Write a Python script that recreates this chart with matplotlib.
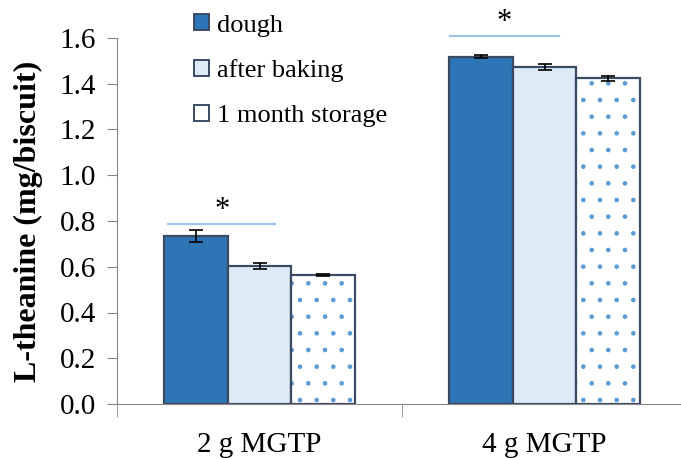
import matplotlib.pyplot as plt
import matplotlib.patches as mpatches
import numpy as np

plt.rcParams['font.family'] = ['Liberation Serif', 'DejaVu Serif']
plt.rcParams['hatch.linewidth'] = 0.9

# Data
groups = ['2 g MGTP', '4 g MGTP']
series = ['dough', 'after baking', '1 month storage']
dough = [0.735, 1.518]
dough_err = [0.026, 0.006]
baked = [0.603, 1.474]
baked_err = [0.014, 0.012]
stored = [0.565, 1.424]
stored_err = [0.004, 0.012]

# significance bars: (x from, x to, height) per group offset
sig_lines = [(-0.32, 0.055, 0.787), (-0.33, 0.05, 1.61)]

fig = plt.figure(figsize=(6.81, 4.58), dpi=100)
ax = fig.add_axes([117/681, 1 - 404/458, 570/681, 366/458])

x = np.arange(len(groups))
w = 0.2235
edge = '#3B4A63'
ekw = dict(elinewidth=1.2, capthick=1.2)
ax.bar(x - w, dough, w, yerr=dough_err, color='#2E75B6', edgecolor=edge,
       linewidth=1.6, capsize=5, error_kw=ekw)
ax.bar(x, baked, w, yerr=baked_err, color='#DEEBF7', edgecolor=edge,
       linewidth=1.6, capsize=5, error_kw=ekw)
# dotted fill in blue, outline drawn on top
ax.bar(x + w, stored, w, color='white', edgecolor='#5B9BD5', hatch='.',
       linewidth=0)
ax.bar(x + w, stored, w, yerr=stored_err, fill=False, edgecolor=edge,
       linewidth=1.6, capsize=5, error_kw=ekw)

for xi, (x0, x1, h) in zip(x, sig_lines):
    ax.plot([xi + x0, xi + x1], [h, h], color='#9DC3E6', lw=1.6, clip_on=False)
    ax.text(xi + (x0 + x1) / 2, h - 0.005, '*', ha='center', va='bottom',
            fontsize=22, clip_on=False)

ax.set_xlim(-0.5, 1.5)
ax.set_ylim(0, 1.6)
ax.set_yticks(np.arange(0, 1.61, 0.2))
ax.set_yticklabels([f'{v:.1f}' for v in np.arange(0, 1.61, 0.2)])
ax.set_xticks(x)
ax.set_xticklabels(groups)
ax.set_xticks([-0.5, 0.5, 1.5], minor=True)
ax.tick_params(axis='x', which='major', length=0, pad=20, labelsize=21)
ax.tick_params(axis='x', which='minor', length=9, color='#888888', direction='out')
ax.tick_params(axis='y', length=7, color='#888888', labelsize=21, pad=8)

for s in ['top', 'right']:
    ax.spines[s].set_visible(False)
ax.spines['left'].set_color('#888888')
ax.spines['bottom'].set_color('#888888')

ax.set_ylabel('L-theanine (mg/biscuit)', fontsize=23, fontweight='bold')
ax.yaxis.set_label_coords(-0.13, 0.5)

handles = [
    mpatches.Patch(facecolor='#2E75B6', edgecolor=edge, linewidth=1.4),
    mpatches.Patch(facecolor='#DEEBF7', edgecolor=edge, linewidth=1.4),
    mpatches.Patch(facecolor='white', edgecolor=edge, linewidth=1.4),
]
fig.legend(handles, series, loc='upper left', bbox_to_anchor=(176/681, 1 + 4/458),
           frameon=False, fontsize=19, handlelength=0.55, handleheight=0.55,
           handletextpad=0.3, labelspacing=0.85, borderpad=0.2)

plt.savefig('out.png', dpi=100)
